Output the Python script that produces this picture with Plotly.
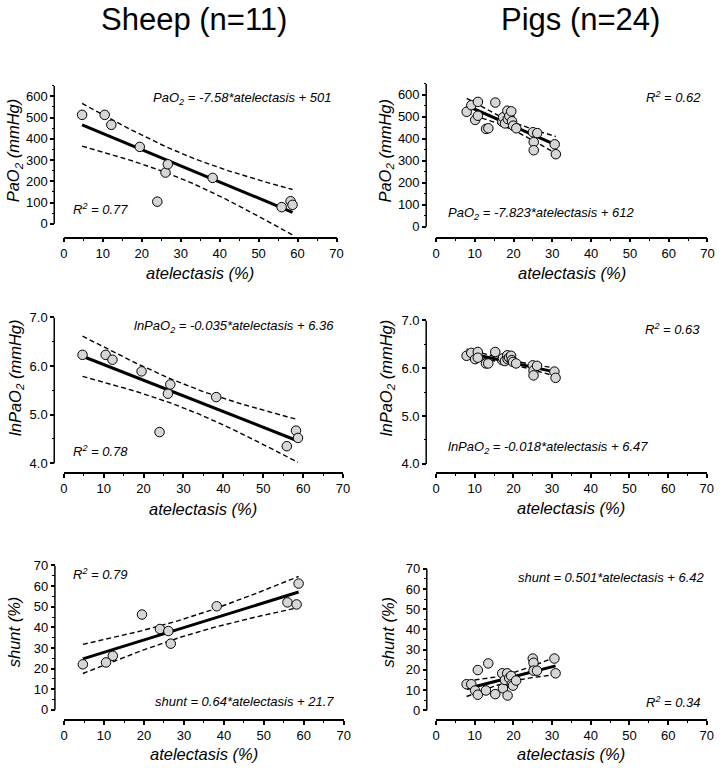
import numpy as np
import plotly.graph_objects as go

W, H = 724, 768

# ---------------- data ----------------
sheep_atel = [4.7, 10.5, 12.2, 19.5, 24.0, 26.1, 26.7, 38.2, 55.9, 58.2, 58.7]
sheep_pao2 = [513, 513, 466, 362, 104, 241, 280, 216, 78, 106, 89]
sheep_lnpao2 = [6.23, 6.23, 6.13, 5.89, 4.64, 5.43, 5.62, 5.36, 4.35, 4.67, 4.52]
sheep_shunt = [22.1, 23.0, 26.2, 46.2, 39.2, 38.2, 32.1, 50.2, 52.1, 51.1, 61.2]

pig_atel = [7.9, 9.1, 10.1, 10.8, 10.8, 12.9, 13.5, 15.3, 17.1, 17.3, 17.8, 18.4,
            18.5, 18.9, 19.4, 19.6, 19.9, 20.7, 25.0, 25.2, 25.2, 26.1, 30.6, 30.9]
pig_pao2 = [523, 553, 486, 568, 505, 445, 448, 565, 478, 498, 470, 528,
            490, 504, 525, 480, 460, 448, 430, 385, 348, 426, 375, 330]
pig_lnpao2 = [6.26, 6.32, 6.19, 6.34, 6.22, 6.10, 6.10, 6.34, 6.17, 6.21, 6.15, 6.27,
              6.19, 6.22, 6.26, 6.17, 6.13, 6.10, 6.06, 5.95, 5.85, 6.05, 5.93, 5.80]
pig_shunt = [12.9, 12.9, 9.8, 19.9, 7.7, 9.8, 23.2, 8.0, 18.3, 10.9, 15.0, 18.3,
             7.3, 16.0, 17.0, 12.9, 12.2, 14.7, 25.6, 23.5, 19.6, 19.6, 25.6, 18.3]

column_titles = ["Sheep (n=11)", "Pigs (n=24)"]
x_title = "atelectasis (%)"
y_titles = ["PaO<sub>2</sub> (mmHg)", "lnPaO<sub>2</sub> (mmHg)", "shunt (%)"]

eq_sheep = ["PaO<sub>2</sub> = -7.58*atelectasis + 501",
            "lnPaO<sub>2</sub> = -0.035*atelectasis + 6.36",
            "shunt = 0.64*atelectasis + 21.7"]
eq_pig = ["PaO<sub>2</sub> = -7.823*atelectasis + 612",
          "lnPaO<sub>2</sub> = -0.018*atelectasis + 6.47",
          "shunt = 0.501*atelectasis + 6.42"]
r2_sheep = ["0.77", "0.78", "0.79"]
r2_pig = ["0.62", "0.63", "0.34"]

x_ticks = [0, 10, 20, 30, 40, 50, 60, 70]
pao2_ticks = [0, 100, 200, 300, 400, 500, 600]
ln_ticks = [4.0, 5.0, 6.0, 7.0]
shunt_ticks = [0, 10, 20, 30, 40, 50, 60, 70]

T_SHEEP = 2.262  # t(0.975, df=9)
T_PIG = 2.074    # t(0.975, df=22)

FONT = "Liberation Sans, Arial, Helvetica, sans-serif"
FILL = "#d6d6d6"

fig = go.Figure()


def px(p):
    return p / W


def py(p):
    return 1 - p / H


# geometry per panel (pixels): y-axis line x, pixel of y lo, pixel of y hi, x-axis line y, pixel of x=0, x=70
panels = [
    dict(x=sheep_atel, y=sheep_pao2, t=T_SHEEP, yax=51.0, ylo_p=219.0, yhi_p=79.6, ylo=0, yhi=650,
         xax=233.0, x0=60.7, x1=337.7, ticks=pao2_ticks, fmt="{:.0f}", minor=list(range(50, 651, 100))),
    dict(x=pig_atel, y=pig_pao2, t=T_PIG, yax=428.7, ylo_p=222.0, yhi_p=77.7, ylo=0, yhi=650,
         xax=233.0, x0=438.7, x1=714.3, ticks=pao2_ticks, fmt="{:.0f}", minor=list(range(50, 651, 100))),
    dict(x=sheep_atel, y=sheep_lnpao2, t=T_SHEEP, yax=51.0, ylo_p=461.0, yhi_p=313.7, ylo=4, yhi=7,
         xax=470.7, x0=60.7, x1=344.3, ticks=ln_ticks, fmt="{:.1f}", minor=[4.5, 5.5, 6.5]),
    dict(x=pig_atel, y=pig_lnpao2, t=T_PIG, yax=428.7, ylo_p=461.7, yhi_p=316.7, ylo=4, yhi=7,
         xax=470.7, x0=438.7, x1=713.7, ticks=ln_ticks, fmt="{:.1f}", minor=[4.5, 5.5, 6.5]),
    dict(x=sheep_atel, y=sheep_shunt, t=T_SHEEP, yax=51.7, ylo_p=710.3, yhi_p=564.3, ylo=0, yhi=70,
         xax=720.3, x0=61.0, x1=345.0, ticks=shunt_ticks, fmt="{:.0f}", minor=list(range(5, 70, 10))),
    dict(x=pig_atel, y=pig_shunt, t=T_PIG, yax=429.3, ylo_p=710.7, yhi_p=567.7, ylo=0, yhi=70,
         xax=720.3, x0=438.7, x1=713.7, ticks=shunt_ticks, fmt="{:.0f}", minor=list(range(5, 70, 10))),
]

annotations = []
shapes = []

for i, p in enumerate(panels, start=1):
    xa = "x" if i == 1 else f"x{i}"
    ya = "y" if i == 1 else f"y{i}"
    xkey = "xaxis" if i == 1 else f"xaxis{i}"
    ykey = "yaxis" if i == 1 else f"yaxis{i}"

    x = np.array(p["x"], dtype=float)
    y = np.array(p["y"], dtype=float)
    n = len(x)
    slope, icpt = np.polyfit(x, y, 1)
    resid = y - (slope * x + icpt)
    s = np.sqrt(np.sum(resid ** 2) / (n - 2))
    xbar = x.mean()
    sxx = np.sum((x - xbar) ** 2)
    xs = np.linspace(x.min(), x.max(), 80)
    yh = slope * xs + icpt
    half = p["t"] * s * np.sqrt(1.0 / n + (xs - xbar) ** 2 / sxx)

    dash = dict(color="black", width=1.4, dash="5px,3px")
    fig.add_trace(go.Scatter(x=xs, y=yh + half, mode="lines", line=dash, xaxis=xa, yaxis=ya,
                             showlegend=False, hoverinfo="skip"))
    fig.add_trace(go.Scatter(x=xs, y=yh - half, mode="lines", line=dash, xaxis=xa, yaxis=ya,
                             showlegend=False, hoverinfo="skip"))
    fig.add_trace(go.Scatter(x=[x.min(), x.max()], y=[slope * x.min() + icpt, slope * x.max() + icpt],
                             mode="lines", line=dict(color="black", width=3), xaxis=xa, yaxis=ya,
                             showlegend=False, hoverinfo="skip"))
    fig.add_trace(go.Scatter(x=x, y=y, mode="markers", xaxis=xa, yaxis=ya, showlegend=False,
                             cliponaxis=False,
                             marker=dict(size=9.5, color=FILL, line=dict(color="black", width=1))))

    # y-axis scale
    k = (p["ylo_p"] - p["yhi_p"]) / (p["yhi"] - p["ylo"])  # pixels per unit
    dom_bot_p = p["xax"] - 2.0
    y_range_lo = p["ylo"] - (dom_bot_p - p["ylo_p"]) / k
    layout_x = dict(domain=[px(p["x0"]), px(p["x1"])], range=[0, 70], anchor="free",
                    position=py(p["xax"]), showline=True, linecolor="black", linewidth=1.5,
                    ticks="outside", ticklen=4, tickwidth=1.5, tickcolor="black",
                    tickmode="array", tickvals=x_ticks, ticktext=[str(v) for v in x_ticks],
                    minor=dict(ticks="outside", ticklen=2.5, tickwidth=1.2, tickcolor="black",
                               tickmode="array", tickvals=[5, 15, 25, 35, 45, 55, 65]),
                    showgrid=False, zeroline=False,
                    tickfont=dict(family=FONT, size=13, color="black"))
    layout_y = dict(domain=[py(dom_bot_p), py(p["yhi_p"])], range=[y_range_lo, p["yhi"]],
                    anchor="free", position=px(p["yax"]), showline=False,
                    ticks="outside", ticklen=4, tickwidth=1.5, tickcolor="black",
                    tickmode="array", tickvals=p["ticks"],
                    ticktext=[p["fmt"].format(v) for v in p["ticks"]],
                    minor=dict(ticks="outside", ticklen=2.5, tickwidth=1.2, tickcolor="black",
                               tickmode="array", tickvals=p["minor"]),
                    showgrid=False, zeroline=False,
                    tickfont=dict(family=FONT, size=13, color="black"))
    fig.update_layout({xkey: layout_x, ykey: layout_y})

    shapes.append(dict(type="line", xref="paper", yref=ya, x0=px(p["yax"]), x1=px(p["yax"]),
                       y0=p["ylo"], y1=p["yhi"], line=dict(color="black", width=1.5)))

# ---------------- text ----------------
def ann(text, xp, ypix, size=13, xanchor="center", angle=0):
    annotations.append(dict(text=text, x=px(xp), y=py(ypix), xref="paper", yref="paper",
                            xanchor=xanchor, yanchor="middle", showarrow=False, textangle=angle,
                            font=dict(family=FONT, size=size, color="black")))

ann(column_titles[0], 193, 13, size=31)
ann(column_titles[1], 585, 13, size=31)

# x titles
for cx, cy in [(199.2, 269), (576.5, 269), (202.5, 507), (576.2, 506), (203, 755), (576.2, 755)]:
    ann("<i>" + x_title + "</i>", cx, cy, size=16.5)

# y titles
ytpos = [(11, 145, 0), (388, 145, 0), (12, 375, 1), (389, 375, 1), (11, 631, 2), (390, 632, 2)]
for cx, cy, j in ytpos:
    ann("<i>" + y_titles[j] + "</i>", cx, cy, size=16.5, angle=-90)

# equations & R2
ann("<i>" + eq_sheep[0] + "</i>", 335, 92, xanchor="right")
ann("<i>R<sup>2</sup> = " + r2_sheep[0] + "</i>", 67.7, 204, xanchor="left")
ann("<i>R<sup>2</sup> = " + r2_pig[0] + "</i>", 710, 91, xanchor="right")
ann("<i>" + eq_pig[0] + "</i>", 449, 209, xanchor="left")

ann("<i>" + eq_sheep[1] + "</i>", 336.7, 323, xanchor="right")
ann("<i>R<sup>2</sup> = " + r2_sheep[1] + "</i>", 67.7, 449, xanchor="left")
ann("<i>R<sup>2</sup> = " + r2_pig[1] + "</i>", 708.7, 325, xanchor="right")
ann("<i>" + eq_pig[1] + "</i>", 449.3, 445, xanchor="left")

ann("<i>R<sup>2</sup> = " + r2_sheep[2] + "</i>", 68.3, 573, xanchor="left")
ann("<i>" + eq_sheep[2] + "</i>", 337.3, 702, xanchor="right")
ann("<i>" + eq_pig[2] + "</i>", 713.7, 576, xanchor="right")
ann("<i>R<sup>2</sup> = " + r2_pig[2] + "</i>", 709.3, 702, xanchor="right")

fig.update_layout(width=W, height=H, autosize=False,
                  margin=dict(l=0, r=0, t=0, b=0),
                  paper_bgcolor="white", plot_bgcolor="white",
                  font=dict(family=FONT, size=13, color="black"),
                  annotations=annotations, shapes=shapes, showlegend=False)

fig.write_html("out.html", config={"displayModeBar": False},
               post_script="document.body.style.margin='0';document.body.style.overflow='hidden';")
